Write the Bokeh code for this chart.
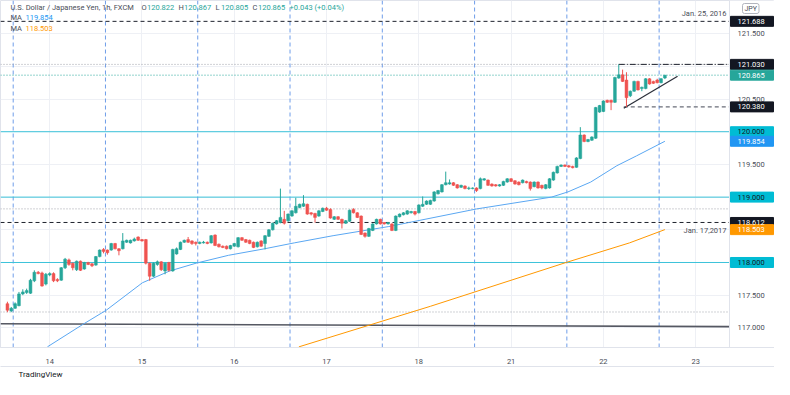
from bokeh.plotting import figure
from bokeh.models import Range1d, FixedTicker, Label, Span, ColumnDataSource, Title, LinearAxis
from bokeh.embed import file_html
from bokeh.resources import INLINE
from bokeh.core.properties import value

# ---------------- data ----------------
opens = [117.37,117.26,117.30,117.34,117.52,117.54,117.53,117.72,117.85,117.84,
         117.67,117.81,117.83,117.74,117.73,117.92,118.04,117.99,117.89,118.02,
         117.90,118.00,117.98,117.96,118.09,118.20,118.19,118.19,118.29,118.21,
         118.21,118.31,118.30,118.33,118.39,118.35,118.35,117.99,117.79,117.97,
         118.01,117.87,118.00,117.87,118.13,118.20,118.31,118.35,118.33,118.31,
         118.29,118.30,118.31,118.30,118.42,118.28,118.25,118.25,118.21,118.25,
         118.24,118.38,118.35,118.34,118.31,118.24,118.33,118.29,118.40,118.50,
         118.59,118.61,118.66,118.64,118.71,118.76,118.84,118.86,118.89,118.76,
         118.75,118.71,118.78,118.83,118.81,118.66,118.70,118.66,118.60,118.63,
         118.81,118.76,118.71,118.45,118.40,118.49,118.59,118.66,118.61,118.59,
         118.59,118.49,118.70,118.73,118.74,118.76,118.78,118.76,118.86,118.89,
         118.89,118.94,119.05,119.08,119.19,119.20,119.22,119.19,119.15,119.17,
         119.13,119.13,119.14,119.13,119.26,119.26,119.20,119.19,119.17,119.18,
         119.23,119.28,119.25,119.23,119.22,119.24,119.23,119.16,119.23,119.18,
         119.13,119.14,119.26,119.37,119.47,119.49,119.48,119.47,119.455,119.59,
         119.95,119.85,119.87,119.90,120.30,120.31,120.48,120.48,120.45,120.82,
         120.87,120.79,120.55,120.62,120.77,120.66,120.66,120.81,120.77,120.79,
         120.75,120.822]
highs = [117.40,117.32,117.39,117.55,117.59,117.60,117.75,117.88,117.87,117.86,
         117.84,117.85,117.85,117.76,117.93,118.07,118.06,118.00,118.03,118.03,
         118.01,118.01,117.99,118.10,118.20,118.22,118.20,118.30,118.30,118.22,
         118.45,118.35,118.35,118.38,118.40,118.36,118.36,118.00,118.00,118.03,
         118.02,118.00,118.01,118.21,118.23,118.32,118.35,118.39,118.34,118.32,
         118.32,118.33,118.32,118.42,118.43,118.29,118.26,118.26,118.27,118.30,
         118.39,118.39,118.36,118.35,118.32,118.32,118.34,118.42,118.51,118.61,
         118.65,119.13,118.79,118.75,118.80,118.99,118.90,119.03,118.90,118.77,
         118.76,118.80,118.84,118.85,118.83,118.71,118.71,118.67,118.65,118.81,
         118.83,118.77,118.72,118.46,118.53,118.60,118.67,118.67,118.62,118.62,
         118.60,118.72,118.75,118.77,118.80,118.79,118.79,118.89,119.01,118.95,
         118.96,119.09,119.11,119.20,119.39,119.27,119.23,119.20,119.19,119.18,
         119.16,119.15,119.15,119.30,119.29,119.27,119.21,119.20,119.20,119.25,
         119.29,119.29,119.26,119.24,119.27,119.25,119.24,119.24,119.24,119.19,
         119.20,119.29,119.39,119.48,119.50,119.50,119.49,119.48,119.61,120.07,
         119.96,119.89,119.93,120.38,120.41,120.48,120.49,120.49,120.84,121.03,
         120.95,120.91,120.63,120.78,120.78,120.69,120.82,120.82,120.78,120.81,
         120.82,120.867]
lows = [117.24,117.24,117.29,117.33,117.50,117.52,117.52,117.70,117.82,117.63,
        117.65,117.79,117.70,117.70,117.72,117.90,117.95,117.88,117.87,117.87,
        117.89,117.96,117.93,117.95,118.08,118.14,118.12,118.18,118.20,118.11,
        118.20,118.30,118.29,118.32,118.33,118.32,117.97,117.72,117.78,117.95,
        117.87,117.82,117.86,117.86,118.12,118.19,118.30,118.30,118.27,118.26,
        118.28,118.29,118.28,118.29,118.25,118.23,118.22,118.20,118.20,118.24,
        118.23,118.33,118.30,118.28,118.22,118.23,118.24,118.20,118.39,118.49,
        118.58,118.60,118.58,118.62,118.70,118.75,118.83,118.85,118.73,118.72,
        118.61,118.70,118.77,118.79,118.67,118.65,118.65,118.52,118.59,118.62,
        118.75,118.68,118.42,118.38,118.39,118.48,118.58,118.58,118.58,118.58,
        118.48,118.48,118.69,118.72,118.73,118.75,118.72,118.75,118.85,118.88,
        118.88,118.93,119.04,119.07,119.18,119.19,119.17,119.13,119.14,119.12,
        119.11,119.12,119.08,119.12,119.25,119.17,119.16,119.16,119.16,119.17,
        119.22,119.23,119.19,119.18,119.21,119.21,119.10,119.15,119.13,119.12,
        119.12,119.13,119.25,119.36,119.46,119.46,119.45,119.44,119.45,119.58,
        119.84,119.84,119.86,119.89,120.29,120.30,120.44,120.33,120.44,120.81,
        120.76,120.38,120.53,120.61,120.63,120.62,120.65,120.72,120.73,120.74,
        120.74,120.805]
closes = [117.27,117.30,117.37,117.52,117.55,117.57,117.73,117.85,117.83,117.64,
          117.82,117.83,117.72,117.72,117.92,118.05,117.97,117.92,118.02,117.88,
          118.00,117.97,117.95,118.09,118.19,118.17,118.15,118.29,118.21,118.18,
          118.33,118.34,118.34,118.36,118.34,118.33,117.99,117.79,117.99,118.01,
          117.89,117.99,117.88,118.20,118.21,118.31,118.34,118.31,118.29,118.29,
          118.31,118.31,118.29,118.41,118.26,118.24,118.23,118.21,118.26,118.29,
          118.38,118.34,118.31,118.29,118.23,118.31,118.25,118.41,118.50,118.60,
          118.64,118.69,118.60,118.74,118.79,118.86,118.89,118.90,118.74,118.74,
          118.69,118.79,118.83,118.80,118.68,118.70,118.66,118.60,118.64,118.80,
          118.76,118.69,118.43,118.40,118.52,118.59,118.66,118.59,118.59,118.61,
          118.49,118.71,118.74,118.76,118.79,118.78,118.74,118.88,118.89,118.94,
          118.95,119.08,119.10,119.19,119.22,119.22,119.18,119.14,119.18,119.13,
          119.14,119.14,119.10,119.28,119.28,119.18,119.17,119.17,119.19,119.24,
          119.28,119.24,119.20,119.19,119.26,119.22,119.13,119.23,119.14,119.14,
          119.19,119.28,119.38,119.47,119.49,119.47,119.46,119.45,119.60,119.95,
          119.85,119.88,119.92,120.37,120.40,120.47,120.45,120.45,120.83,120.87,
          120.77,120.52,120.62,120.77,120.64,120.68,120.81,120.73,120.74,120.75,
          120.81,120.865]

ma_fast_x = [10.4, 19.8, 25.7, 35.1, 42.2, 49.1, 57.5, 66.9, 74.6, 84.7, 99.2, 122.1,
             141.5, 145.8, 151.7, 158.5, 163.6, 171.0]
ma_fast_y = [116.71, 117.06, 117.27, 117.69, 117.87, 117.99, 118.11, 118.21, 118.30, 118.41,
             118.55, 118.82, 119.00, 119.08, 119.23, 119.48, 119.63, 119.854]
ma_slow_x = [75.8, 110.0, 145.3, 161.8, 171.0]
ma_slow_y = [116.71, 117.33, 118.00, 118.30, 118.503]

day_ticks = [11, 35, 59, 83, 107, 131, 155, 179]
day_labels = ["14", "15", "16", "17", "18", "21", "22", "23"]
session_breaks = [1.5, 25.5, 49.5, 73.5, 97.5, 121.5, 145.5, 169.5]
price_ticks = [117.0, 117.5, 118.0, 118.5, 119.0, 119.5, 120.0, 120.5, 121.0, 121.5]

cyan_levels = [120.0, 119.0, 118.0]
dashed_levels = [121.688, 118.612]
dashed_notes = ["Jan. 25, 2016", "Jan. 17,2017"]
dotted_levels = [121.03, 118.82, 117.243]
last_price = 120.865
res_level = 121.03
res_start = 159.0
sup_level = 120.38
sup_start = 160.3
tri_x = [160.3, 174.3]
tri_y = [120.36, 120.85]
trend_y = [117.064, 117.019]

tag_values = [121.688, 121.030, 120.865, 120.380, 120.000, 119.854, 119.000, 118.612, 118.503, 118.000]
tag_kinds = ["k", "k", "up", "k", "cy", "blue", "cy", "k", "orange", "cy"]

ohlc_text = [("O", "120.822"), ("H", "120.867"), ("L", "120.805"), ("C", "120.865")]
change_text = "+0.043 (+0.04%)"

# ---------------- layout / styling ----------------
FONT = "Roboto"
UP, DOWN = "#26a69a", "#ef5350"
CYAN = "#3cc3da"
BLUE = "#2196f3"
ORANGE = "#ff9800"
TXT = "#4a4e58"
EDGE = "#e0e3eb"
W, H = 774, 379
FRAME_H = 348
SCALE_W = 45                      # width of the price scale strip (px)
x_start, x_div = -1.8, 187.8      # chart area spans x_start..x_div
ppu = (W - SCALE_W) / (x_div - x_start)
x_end = x_start + W / ppu         # frame also holds the price scale strip
y_start, y_end = 116.70, 122.007

p = figure(width=W, height=H, output_backend="svg", toolbar_location=None,
           x_range=Range1d(x_start, x_end), y_range=Range1d(y_start, y_end),
           y_axis_location=None, min_border_left=0, min_border_top=0,
           min_border_right=0, min_border_bottom=H - FRAME_H,
           background_fill_color="white", border_fill_color="white")
p.outline_line_color = EDGE

xa = p.xaxis[0]
xa.ticker = FixedTicker(ticks=day_ticks)
xa.major_label_overrides = {t: l for t, l in zip(day_ticks, day_labels)}
xa.axis_line_color = EDGE
xa.major_tick_line_color = None
xa.minor_tick_line_color = None
xa.major_label_standoff = 5
xa.major_label_text_font = FONT
xa.major_label_text_font_size = "7.5px"
xa.major_label_text_color = TXT

# a label-less second axis just to draw the lower border of the time scale row
edge_axis = LinearAxis(ticker=FixedTicker(ticks=[]), axis_line_color=EDGE,
                       major_tick_line_color=None, minor_tick_line_color=None,
                       major_label_text_font_size="0px", major_label_standoff=0)
p.add_layout(edge_axis, "below")

p.xgrid.ticker = FixedTicker(ticks=day_ticks)
p.ygrid.ticker = FixedTicker(ticks=price_ticks)
p.xgrid.grid_line_color = "#eef0f5"
p.ygrid.grid_line_color = "#eef0f5"

# session breaks
p.segment(x0=session_breaks, y0=[y_start] * len(session_breaks), x1=session_breaks,
          y1=[y_end] * len(session_breaks), line_color="#6e9de9", line_dash="4 3", line_width=1)

# horizontal levels (stop at the price scale)
def hline(levels, **kw):
    p.segment(x0=[x_start] * len(levels), y0=levels, x1=[x_div] * len(levels), y1=levels, **kw)

hline(dotted_levels, line_color="#a0a3ab", line_dash="1 2", line_width=1)
hline(cyan_levels, line_color=CYAN, line_width=1)
hline(dashed_levels, line_color="#1e222d", line_dash="4 3", line_width=1)
hline([last_price], line_color=UP, line_dash="1 2", line_width=1)

p.line([x_start, x_div], trend_y, line_color="#555862", line_width=1.6)
p.line([res_start, x_div], [res_level, res_level], line_color="#1e222d",
       line_dash="6 2 1 2", line_width=1)
p.line([sup_start, x_div], [sup_level, sup_level], line_color="#6a6d78",
       line_dash="4 3", line_width=1.2)
p.line(tri_x, tri_y, line_color="#2a2e39", line_width=1.2)

# moving averages
p.line(ma_slow_x, ma_slow_y, line_color=ORANGE, line_width=1)
p.line(ma_fast_x, ma_fast_y, line_color="#5aa7f2", line_width=1)

# candles
n = len(opens)
colors = [UP if c >= o else DOWN for o, c in zip(opens, closes)]
src = ColumnDataSource(dict(
    x=list(range(n)), open=opens, high=highs, low=lows, close=closes,
    top=[max(o, c) for o, c in zip(opens, closes)],
    bottom=[min(o, c) for o, c in zip(opens, closes)],
    color=colors))
p.segment(x0="x", y0="high", x1="x", y1="low", line_color="color", line_width=1, source=src)
p.vbar(x="x", top="top", bottom="bottom", width=0.74, fill_color="color",
       line_color="color", line_width=0.5, source=src)

# ---- price scale strip (inside the frame, right of x_div) ----
p.quad(left=[x_div], right=[x_end], bottom=[y_start], top=[y_end],
       fill_color="white", line_color=None)
p.add_layout(Span(location=x_div, dimension="height", line_color=EDGE, line_width=1))
p.text(x=[x_div] * len(price_ticks), y=price_ticks, text=[f"{t:.3f}" for t in price_ticks],
       x_offset=8, text_font=value(FONT), text_font_size=value("7.5px"), text_color=TXT,
       text_baseline="middle", text_align="left")

kind_style = {"k": ("#131722", "white"), "up": (UP, "white"), "cy": ("#00bcd4", "#131722"),
              "blue": (BLUE, "white"), "orange": (ORANGE, "white")}
tag_src = ColumnDataSource(dict(
    x=[x_div + 22.5 / ppu] * len(tag_values), tx=[x_div] * len(tag_values), y=tag_values,
    text=[f"{v:.3f}" for v in tag_values],
    bg=[kind_style[k][0] for k in tag_kinds], fg=[kind_style[k][1] for k in tag_kinds]))
p.rect(x="x", y="y", width=43, height=10, width_units="screen", height_units="screen",
       fill_color="bg", line_color="bg", source=tag_src)
p.text(x="tx", y="y", text="text", x_offset=8, text_font=value(FONT),
       text_font_size=value("7.5px"), text_color="fg", text_baseline="middle",
       text_align="left", source=tag_src)

p.add_layout(Label(x=x_div, y=y_end, x_offset=13, y_offset=-8, text="JPY", text_font=FONT,
                   text_font_size="7px", text_color=TXT, text_align="left",
                   text_baseline="middle", border_line_color="#b2b5be", border_radius=2,
                   padding=dict(left=2, right=2, top=1, bottom=1)))

# notes on dashed lines
p.add_layout(Label(x=x_div, y=dashed_levels[0], x_offset=-3, y_offset=3, text=dashed_notes[0],
                   text_font=FONT, text_font_size="7.5px", text_color=TXT,
                   text_align="right", text_baseline="bottom"))
p.add_layout(Label(x=x_div, y=dashed_levels[1], x_offset=-3, y_offset=-4, text=dashed_notes[1],
                   text_font=FONT, text_font_size="7.5px", text_color=TXT,
                   text_align="right", text_baseline="top"))

# legend (top-left)
def txt(xo, yo, t, c, size="7.5px"):
    p.add_layout(Label(x=x_start, y=y_end, x_offset=xo, y_offset=yo, text=t, text_font=FONT,
                       text_font_size=size, text_color=c, text_align="left",
                       text_baseline="middle"))

txt(10, -7, "U.S. Dollar / Japanese Yen, 1h, FXCM", TXT)
xo = 141
for letter, val in ohlc_text:
    txt(xo, -7, letter, TXT)
    txt(xo + 5.5, -7, val, UP)
    xo += 37
txt(xo, -7, change_text, UP)
txt(10, -17, "MA", TXT)
txt(25, -17, f"{ma_fast_y[-1]:.3f}", BLUE)
txt(10, -28, "MA", TXT)
txt(25, -28, f"{ma_slow_y[-1]:.3f}", ORANGE)

# TradingView mark below the chart
p.add_layout(Title(text="TradingView", align="left", offset=18, text_font=FONT,
                   text_font_size="8px", text_color="#131722", text_font_style="normal",
                   standoff=2), "below")

open("out.html", "w").write(file_html(p, INLINE))
